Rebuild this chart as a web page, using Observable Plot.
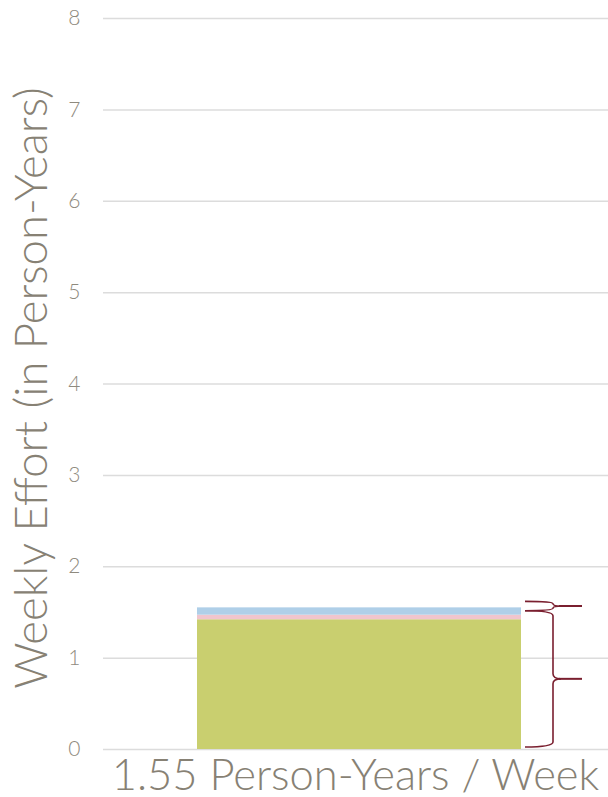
<!DOCTYPE html>
<html>
<head>
<meta charset="utf-8">
<script src="https://cdn.jsdelivr.net/npm/d3@7"></script>
<script src="https://cdn.jsdelivr.net/npm/@observablehq/plot@0.6"></script>
<style>
  html, body { margin: 0; padding: 0; background: #fff; }
  #chart svg { display: block; }
</style>
</head>
<body>
<div id="chart"></div>
<script>
// ---- data ----
const categories = ["1.55 Person-Years / Week"];
const series = ["Core", "Review", "Support"];
const values = [1.42, 0.05, 0.08];
const yTicks = [0, 1, 2, 3, 4, 5, 6, 7, 8];
const yLabel = "Weekly Effort (in Person-Years)";

const seriesColors = ["#c9cf6f", "#f0c5cd", "#afcfe8"];
const textColor = "#878174";
const braceColor = "#7a1f2f";
const font = "Lato, 'Open Sans', sans-serif";

const rows = series.map((s, i) => ({category: categories[0], series: s, value: values[i]}));

const chart = Plot.plot({
  width: 608,
  height: 797,
  marginLeft: 103,
  marginRight: 0,
  marginTop: 18,
  marginBottom: 48,
  style: {fontFamily: font, color: textColor, background: "#fff"},
  x: {domain: categories, paddingInner: 0, paddingOuter: 0.277, align: 0.517, label: null},
  y: {domain: [0, 8], ticks: yTicks, label: null},
  color: {domain: series, range: seriesColors},
  marks: [
    Plot.gridY(yTicks, {stroke: "#dcdcdc", strokeOpacity: 1, strokeWidth: 1.5}),
    Plot.axisY(yTicks, {tickSize: 0, tickPadding: 23, fontSize: 21, fill: "#8f8a7e", fontWeight: 300, label: null, tickFormat: d3.format("d")}),
    Plot.axisX({tickSize: 0, tickPadding: 10, dx: -4, fontSize: 43.5, fill: textColor, fontWeight: 300, label: null}),
    Plot.barY(rows, {x: "category", y: "value", fill: "series"}),
    Plot.text([yLabel], {frameAnchor: "left", textAnchor: "middle", rotate: -90, dx: -71, dy: 4, fontSize: 45.5, fill: textColor, fontWeight: 300, text: d => d})
  ]
});

document.getElementById("chart").appendChild(chart);

// ---- braces (annotation, positioned via the chart's scales) ----
const xs = chart.scale("x"), ys = chart.scale("y");
const barRight = xs.apply(categories[0]) + xs.bandwidth;
const svg = d3.select(chart);
const cum = d3.cumsum(values);
const braces = [
  {y0: 0, y1: cum[1], dyTop: -4, dyBot: -2},
  {y0: cum[1], y1: cum[2], dyTop: -6, dyBot: -4}
];
const x0 = barRight + 4, xsp = barRight + 32, xt = barRight + 61;
for (const b of braces) {
  const yb = ys.apply(b.y0) + b.dyBot;
  const yt = ys.apply(b.y1) + b.dyTop;
  const ym = (yb + yt) / 2;
  const r = Math.min(5, (yb - yt) / 4);
  const d = `M${x0},${yt} Q${xsp},${yt} ${xsp},${yt + r} L${xsp},${ym - r} Q${xsp},${ym} ${xsp + 8},${ym} Q${xsp},${ym} ${xsp},${ym + r} L${xsp},${yb - r} Q${xsp},${yb} ${x0},${yb}`;
  svg.append("path").attr("d", d).attr("fill", "none").attr("stroke", braceColor).attr("stroke-width", 1.6);
  svg.append("line").attr("x1", xsp + 6).attr("x2", xt).attr("y1", ym).attr("y2", ym)
    .attr("stroke", braceColor).attr("stroke-width", 2);
}
</script>
</body>
</html>
